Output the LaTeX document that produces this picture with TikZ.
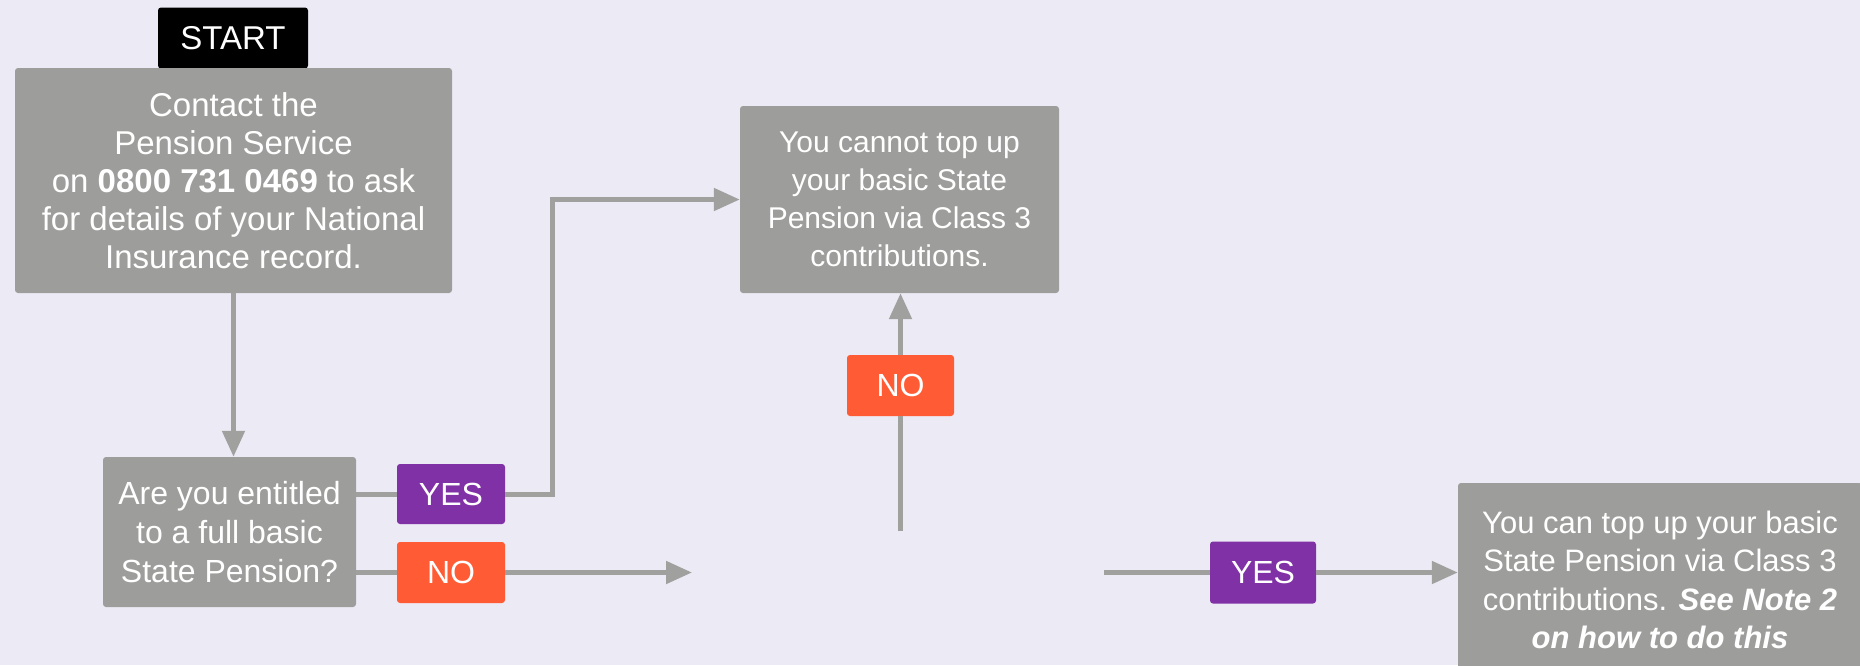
\documentclass[tikz,border=0pt]{standalone}
\usepackage{fontspec}
\setmainfont{Liberation Sans}
\usetikzlibrary{arrows.meta}
\definecolor{bgc}{RGB}{236,234,244}
\definecolor{boxg}{RGB}{157,157,155}
\definecolor{lineg}{RGB}{160,160,158}
\definecolor{purp}{RGB}{128,49,166}
\definecolor{oran}{RGB}{255,92,53}
\tikzset{
  gbox/.style={fill=boxg, rounded corners=3pt, text=white, align=center, inner sep=0pt},
  lab/.style={rounded corners=3pt, text=white, inner sep=0pt, font=\fontsize{32}{36}\selectfont},
  yeslab/.style={lab, fill=purp},
  nolab/.style={lab, fill=oran},
  conn/.style={draw=lineg, line width=5pt},
  arr/.style={conn, -{Triangle[length=26pt,width=22pt]}}
}
\begin{document}
\begin{tikzpicture}[x=1pt,y=-1pt]
\clip (0,0) rectangle (1860,665);
\fill[bgc] (0,0) rectangle (1860,665);
% START
\node[fill=black, rounded corners=3pt, text=white, inner sep=0pt, minimum width=150pt, minimum height=61pt, font=\fontsize{33}{36}\selectfont] (start) at (233,38) {START};
% Contact box
\node[gbox, minimum width=437pt, minimum height=225pt, font=\fontsize{33}{38}\selectfont] (contact) at (233.5,180.5)
  {Contact the\\Pension Service\\on \textbf{0800 731 0469} to ask\\for details of your National\\Insurance record.};
% Question
\node[gbox, minimum width=253pt, minimum height=150pt, font=\fontsize{32}{39}\selectfont] (q) at (229.5,532)
  {Are you entitled\\to a full basic\\State Pension?};
\node[yeslab, minimum width=108pt, minimum height=60pt] (yes1) at (451,494) {YES};
\node[nolab, minimum width=108pt, minimum height=61pt] (no1) at (451,572.5) {NO};
% Cannot
\node[gbox, minimum width=319pt, minimum height=187pt, font=\fontsize{30}{38}\selectfont] (cannot) at (899.5,199.5)
  {You cannot top up\\your basic State\\Pension via Class 3\\contributions.};
\node[nolab, minimum width=107pt, minimum height=61pt] (mno) at (900.5,385.5) {NO};
% Right
\node[yeslab, minimum width=106pt, minimum height=62pt] (ryes) at (1263,572.5) {YES};
\node[gbox, minimum width=404pt, minimum height=194pt, font=\fontsize{31}{38.5}\selectfont] (result) at (1660,580)
  {You can top up your basic\\State Pension via Class 3\\contributions. \textbf{\textit{See Note 2}}\\\textbf{\textit{on how to do this}}};
% free ends
\coordinate (ybend) at (552,494);
\coordinate (gapin) at (692,572.5);
\coordinate (gaptop) at (900.5,531);
\coordinate (gapout) at (1104,572.5);
% connectors
\draw[arr] (contact.south) -- (contact.south |- q.north);
\draw[conn] (q.east |- yes1.west) -- (yes1.west);
\draw[arr] (yes1.east) -- (ybend) |- (cannot.west);
\draw[conn] (q.east |- no1.west) -- (no1.west);
\draw[arr] (no1.east) -- (gapin);
\draw[conn] (gaptop) -- (mno.south);
\draw[arr] (mno.north) -- (mno.north |- cannot.south);
\draw[conn] (gapout) -- (ryes.west);
\draw[arr] (ryes.east) -- (result.west |- ryes.east);
\end{tikzpicture}
\end{document}
